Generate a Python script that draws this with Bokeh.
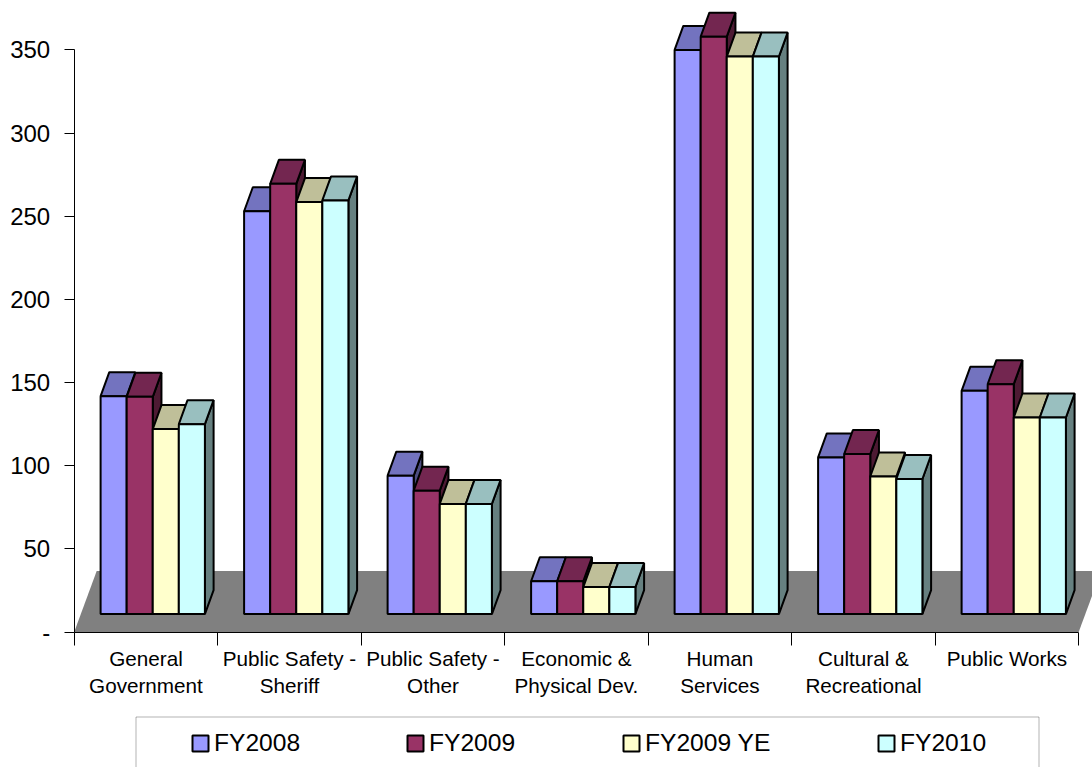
from bokeh.plotting import figure
from bokeh.models import Range1d, FixedTicker, Label, Legend, LegendItem, BoxAnnotation
from bokeh.embed import file_html
from bokeh.resources import INLINE

categories = [["General", "Government"], ["Public Safety -", "Sheriff"], ["Public Safety -", "Other"],
              ["Economic &", "Physical Dev."], ["Human", "Services"], ["Cultural &", "Recreational"], ["Public Works"]]
fy2008 = [141.8, 253, 94, 30.5, 350, 105, 145]
fy2009 = [141.4, 269.5, 85, 30.5, 358, 107, 149]
fy2009ye = [122, 258.5, 77, 27, 346, 93.5, 129]
fy2010 = [125, 259.5, 77, 27, 346, 92, 129]
names = ["FY2008", "FY2009", "FY2009 YE", "FY2010"]
series = [fy2008, fy2009, fy2009ye, fy2010]
front = ["#9999FF", "#993366", "#FFFFCC", "#CCFFFF"]
top = ["#7373BF", "#732650", "#BFBF99", "#99BFBF"]
side = ["#4D4D80", "#4D1A33", "#808066", "#668080"]
yticks = [0, 50, 100, 150, 200, 250, 300, 350]

FONT = "Liberation Sans"
W, H = 1092, 767
X0, Y0 = 73.7, 631.5             # page position of the axes' origin
PX_X, PX_Y = 143.5, 1.663        # pixels per category / per axis unit
BASE = 10.8                      # bar foot above the floor's front edge
DX, DY = 8.7 / PX_X, 24 / PX_Y   # depth of a bar
FX, FY = 22.5 / PX_X, 61 / PX_Y  # depth of the floor
START, BW = 0.184, 0.1817
LW = 2


def data_x(px):
    return (px - X0) / PX_X


def data_y(py):
    return (Y0 - py) / PX_Y


p = figure(width=W, height=H, output_backend="svg", toolbar_location=None,
           x_range=Range1d(data_x(0), data_x(W)), y_range=Range1d(data_y(H), data_y(0)),
           min_border_left=0, min_border_right=0, min_border_top=0, min_border_bottom=0,
           outline_line_color=None, background_fill_color="white", border_fill_color="white")
p.grid.visible = False

# floor
n = len(categories)
p.patch([0, FX, n + FX, n], [0, FY, FY, 0], fill_color="#808080", line_color=None)

renderers = []
for k, vals in enumerate(series):
    lefts = [c + START + k * BW for c in range(len(vals))]
    rights = [l + BW for l in lefts]
    p.patches([[r, r + DX, r + DX, r] for r in rights],
              [[BASE, BASE + DY, v + DY, v] for v in vals],
              fill_color=side[k], line_color="black", line_width=LW)
    p.patches([[l, l + DX, r + DX, r] for l, r in zip(lefts, rights)],
              [[v, v + DY, v + DY, v] for v in vals],
              fill_color=top[k], line_color="black", line_width=LW)
    r = p.quad(left=lefts, right=rights, bottom=BASE, top=vals,
               fill_color=front[k], line_color="black", line_width=LW)
    renderers.append(r)

# axes
ya = p.yaxis[0]
ya.fixed_location = 0
ya.ticker = FixedTicker(ticks=yticks)
ya.major_label_overrides = {0: "-"}
ya.bounds = (0, 350)
ya.major_tick_in = 0
ya.major_tick_out = 10
ya.minor_tick_line_color = None
ya.major_label_standoff = 14
ya.major_label_text_font = FONT
ya.major_label_text_font_size = "24px"
ya.major_label_text_color = "black"
ya.axis_line_color = "black"
ya.major_tick_line_color = "black"

xa = p.xaxis[0]
xa.fixed_location = 0
xa.ticker = FixedTicker(ticks=list(range(n + 1)))
xa.major_label_overrides = {i: "" for i in range(n + 1)}
xa.bounds = (0, n)
xa.major_tick_in = 0
xa.major_tick_out = 13
xa.minor_tick_line_color = None
xa.axis_line_color = "black"
xa.major_tick_line_color = "black"

for i, lines in enumerate(categories):
    for j, t in enumerate(lines):
        p.add_layout(Label(x=i + 0.5, y=data_y(657.7 + 27 * j), text=t, text_font=FONT,
                           text_font_size="20.7px", text_align="center", text_baseline="middle",
                           text_color="black"))

# legend frame
p.add_layout(BoxAnnotation(left=data_x(135.5), right=data_x(1038.5),
                           top=data_y(716.5), bottom=data_y(790),
                           fill_color="white", fill_alpha=1, line_color="black", line_width=1))

for name, r, x in zip(names, renderers, [190, 405, 621, 876]):
    p.add_layout(Legend(items=[LegendItem(label=name, renderers=[r])],
                        location=(x, H - 757), padding=0, margin=0, border_line_color=None,
                        background_fill_alpha=0, glyph_width=20, glyph_height=20, label_standoff=4,
                        label_text_font=FONT, label_text_font_size="24.6px", label_text_color="black"))

open("out.html", "w").write(file_html(p, INLINE))
